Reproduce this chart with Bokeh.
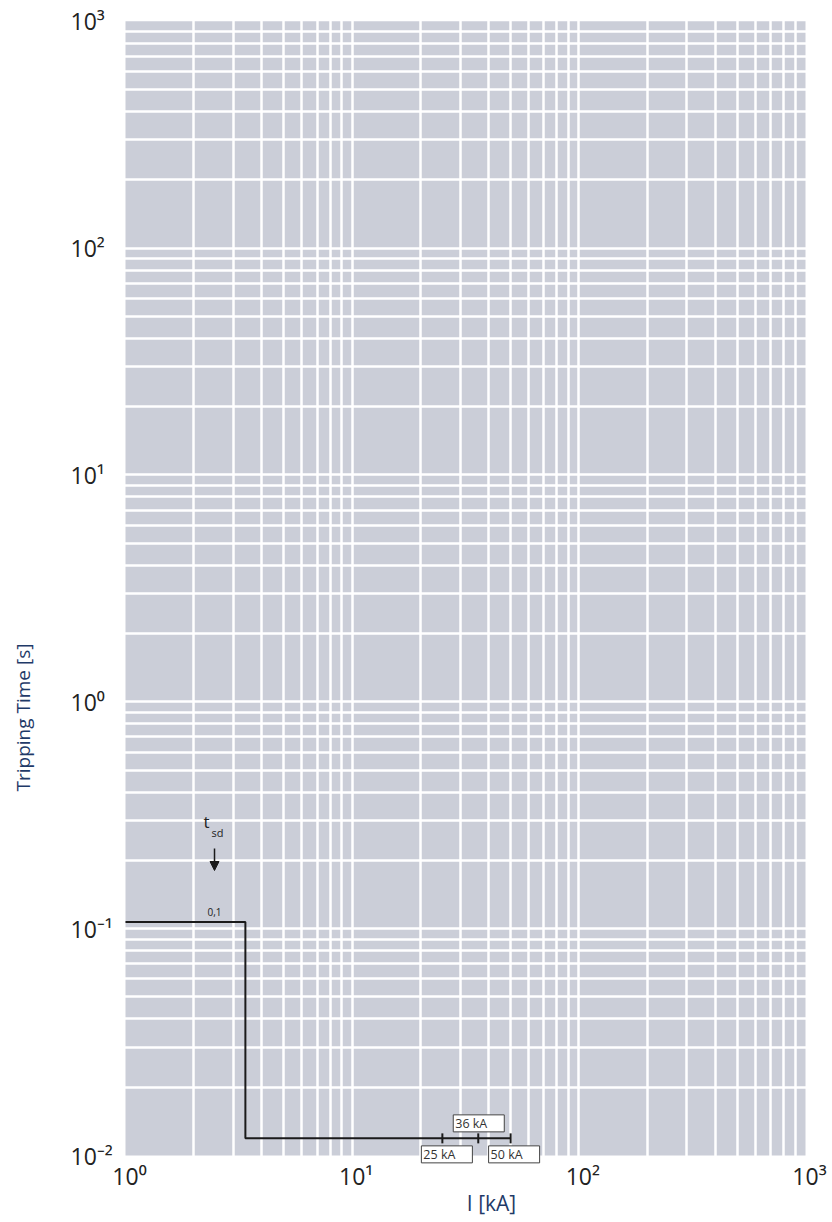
import math
from bokeh.plotting import figure
from bokeh.models import FixedTicker, Label, Arrow, NormalHead, Range1d
from bokeh.core.properties import value
from bokeh.embed import file_html
from bokeh.resources import INLINE

# ---------------- data ----------------
x_ticks = [1, 10, 100, 1000]
x_tick_labels = ["10⁰", "10¹", "10²", "10³"]
y_ticks = [0.01, 0.1, 1, 10, 100, 1000]
y_tick_labels = ["10⁻²", "10⁻¹", "10⁰", "10¹", "10²", "10³"]

# tripping curve (current in kA, tripping time in s)
curve_current_kA = [1.0, 3.38, 3.38, 50.0]
curve_time_s = [0.107, 0.107, 0.0119, 0.0119]

# breaking capacities marked on the curve
breaking_kA = [25, 36, 50]
breaking_labels = ["25 kA", "36 kA", "50 kA"]
breaking_time_s = [0.0119, 0.0119, 0.0119]

tsd_label = "t"
tsd_sub = "sd"
tsd_value_label = "0,1"
tsd_kA = 2.47

x_title = "I [kA]"
y_title = "Tripping Time [s]"

# ---------------- layout ----------------
FONT = "Open Sans"
NAVY = "#1f3a68"
GREY = "#cbced8"
W, H = 832, 1222
FL, FR, FT, FB = 125.0, 805.0, 20.7, 1155.0      # plotting area in page pixels
XDEC = (FR - FL) / 3.0
YDEC = (FB - FT) / 5.0


def xd(px):
    return 10 ** ((px - FL) / XDEC)


def yd(py):
    return 10 ** (3 - (py - FT) / YDEC)


p = figure(width=W, height=H, x_axis_type="log", y_axis_type="log",
           x_axis_location=None, y_axis_location=None,
           x_range=Range1d(xd(0), xd(W)), y_range=Range1d(yd(H), yd(0)),
           output_backend="svg", toolbar_location=None, min_border=0)
p.outline_line_color = None
p.background_fill_color = "white"
p.border_fill_color = "white"

# grey chart area
p.quad(left=[x_ticks[0]], right=[x_ticks[-1]], bottom=[y_ticks[0]], top=[y_ticks[-1]],
       fill_color=GREY, line_color=None, level="image")


# grid: white lines on every 1..9 x decade, inside the chart area
def interior(lo_exp, hi_exp):
    out = []
    for e in range(lo_exp, hi_exp):
        for m in range(1, 10):
            if e == lo_exp and m == 1:
                continue
            out.append(m * 10.0 ** e)
    return out


p.xgrid.ticker = FixedTicker(ticks=interior(0, 3), minor_ticks=[])
p.ygrid.ticker = FixedTicker(ticks=interior(-2, 3), minor_ticks=[])
for g in (p.xgrid[0], p.ygrid[0]):
    g.grid_line_color = "white"
    g.grid_line_width = 2.5
    g.grid_line_alpha = 1.0
    g.minor_grid_line_color = None

# tick labels
p.text(x=x_ticks, y=[yd(1175)] * len(x_ticks), text=x_tick_labels, x_offset=4,
       text_font=value(FONT), text_font_size="23px", text_color="#222222",
       text_align="center", text_baseline="middle")
p.text(x=[xd(70)] * len(y_ticks), y=y_ticks, text=y_tick_labels,
       text_font=value(FONT), text_font_size="23px", text_color="#222222",
       text_align="left", text_baseline="middle")

# axis titles
p.text(x=[xd(491)], y=[yd(1202)], text=[x_title], text_font=value(FONT),
       text_font_size="21px", text_color=NAVY, text_align="center", text_baseline="middle")
p.text(x=[xd(22)], y=[yd(717)], text=[y_title], angle=math.pi / 2, text_font=value(FONT),
       text_font_size="19px", text_color=NAVY, text_align="center", text_baseline="middle")

# curve
p.line(curve_current_kA, curve_time_s, line_color="#1a1a1a", line_width=2)
p.scatter(breaking_kA, breaking_time_s, marker="dash", angle=math.pi / 2, size=10,
          line_color="#1a1a1a", line_width=2)

# breaking capacity labels in boxes
offsets = [(-21, -16), (-25, 15), (-22, -16)]
for kA, t, txt, (dx, dy) in zip(breaking_kA, breaking_time_s, breaking_labels, offsets):
    p.add_layout(Label(x=kA, y=t, x_offset=dx, y_offset=dy, text=txt,
                       text_font=FONT, text_font_size="12.5px", text_color="#333333",
                       text_align="left", text_baseline="middle",
                       background_fill_color="white", border_line_color="#444444",
                       border_line_width=1, padding=dict(left=2, right=17, top=0, bottom=0)))

# t_sd marker
p.add_layout(Label(x=tsd_kA, y=yd(821), x_offset=-8, text=tsd_label, text_font=FONT,
                   text_font_size="17px", text_color="#222222", text_align="center",
                   text_baseline="middle"))
p.add_layout(Label(x=tsd_kA, y=yd(832), x_offset=-3, text=tsd_sub, text_font=FONT,
                   text_font_size="11px", text_color="#222222", text_align="left",
                   text_baseline="middle"))
p.add_layout(Arrow(x_start=tsd_kA, y_start=yd(848), x_end=tsd_kA, y_end=yd(870),
                   line_color="#1a1a1a", line_width=1.5,
                   end=NormalHead(size=9, fill_color="#1a1a1a", line_color="#1a1a1a")))
p.add_layout(Label(x=tsd_kA, y=yd(911), text=tsd_value_label, text_font=FONT,
                   text_font_size="10px", text_color="#222222", text_align="center",
                   text_baseline="middle"))

open("out.html", "w").write(file_html(p, INLINE))
